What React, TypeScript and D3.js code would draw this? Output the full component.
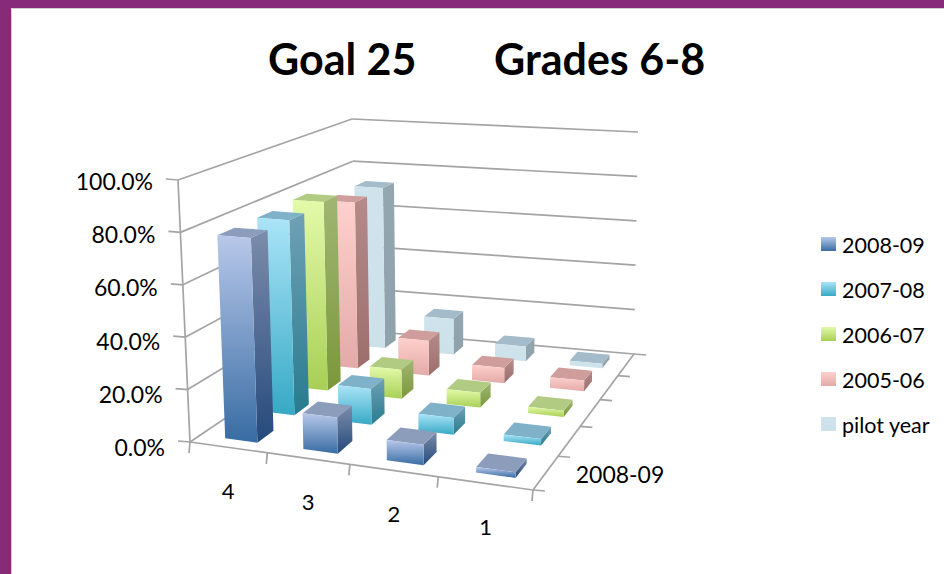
import React from "react";
import * as d3 from "d3";

const categories = ["4", "3", "2", "1"];
const seriesNames = ["2008-09", "2007-08", "2006-07", "2005-06", "pilot year"];
const s200809 = [78, 13.5, 7.5, 2];
const s200708 = [78, 14, 6.5, 2.5];
const s200607 = [79, 12, 6, 2.5];
const s200506 = [72.5, 15, 6.5, 4.5];
const sPilot = [73, 16, 6.5, 2];
const seriesValues = [s200809, s200708, s200607, s200506, sPilot];
const yTicks = [0, 20, 40, 60, 80, 100];

const palette = [
  { ft: "#b8c8ea", fb: "#386ca3", top: "#8c9dbc", st: "#7c8cab", sb: "#254a7c" },
  { ft: "#aae4f8", fb: "#36a9c5", top: "#7fb2c8", st: "#6fa0b6", sb: "#287b8e" },
  { ft: "#e3faa9", fb: "#a8cf55", top: "#b1cc82", st: "#a0b673", sb: "#7a983a" },
  { ft: "#fed0cd", fb: "#e3aaa8", top: "#cf9d9b", st: "#b58a88", sb: "#9c6f6d" },
  { ft: "#cfe3ec", fb: "#cde1ea", top: "#a4bbc9", st: "#94a6af", sb: "#8fa1aa" },
];

const W = 944, H = 574;
type Pt = [number, number];
const floorCorners: Pt[] = [[190, 442], [533, 490], [634, 354], [356, 330]];
const ceilCorners: Pt[] = [[178, 180], [535, 205], [638, 132], [352, 119]];

function homography([p00, p10, p11, p01]: Pt[]) {
  const den = (p10[0] - p11[0]) * (p01[1] - p11[1]) - (p01[0] - p11[0]) * (p10[1] - p11[1]);
  const sx = p00[0] - p10[0] + p11[0] - p01[0], sy = p00[1] - p10[1] + p11[1] - p01[1];
  const g = (sx * (p01[1] - p11[1]) - (p01[0] - p11[0]) * sy) / den;
  const i = ((p10[0] - p11[0]) * sy - sx * (p10[1] - p11[1])) / den;
  const a = p10[0] - p00[0] + g * p10[0], b = p01[0] - p00[0] + i * p01[0];
  const e = p10[1] - p00[1] + g * p10[1], f = p01[1] - p00[1] + i * p01[1];
  return (u: number, v: number): Pt => {
    const w = g * u + i * v + 1;
    return [(a * u + b * v + p00[0]) / w, (e * u + f * v + p00[1]) / w];
  };
}
const floorAt = homography(floorCorners);
const ceilAt = homography(ceilCorners);
const project = (u: number, v: number, h: number): Pt => {
  const p = floorAt(u, v), q = ceilAt(u, v);
  return [p[0] + (q[0] - p[0]) * h, p[1] + (q[1] - p[1]) * h];
};
const [A, B, C] = floorCorners;

const uScale = d3.scaleBand<string>().domain(categories).range([0.01, 1.01]).paddingInner(0.58).paddingOuter(0.29);
const vScale = d3.scaleBand<string>().domain(seriesNames).range([-0.008, 0.992]).paddingInner(0.58).paddingOuter(0.29);
const uTick = d3.scaleLinear().domain([0, categories.length]).range([0, 1]);
const vTick = d3.scaleLinear().domain([0, seriesNames.length]).range([0, 1]);
const hScale = d3.scaleLinear().domain([0, 100]).range([0, 1]);
const yLabel = d3.scaleLinear().domain([0, 100]).range([456, 190]);
const line = d3.line<Pt>();
const poly = (pts: Pt[]) => line(pts) + "Z";

const AXIS = "#a4a4a4";
const FONT = "Lato, Carlito, 'Noto Sans', sans-serif";

export default function App() {
  const bars: React.ReactNode[] = [];
  for (let s = seriesNames.length - 1; s >= 0; s--) {
    categories.forEach((cat, k) => {
      const u0 = uScale(cat)!, u1 = u0 + uScale.bandwidth();
      const v0 = vScale(seriesNames[s])!, v1 = v0 + vScale.bandwidth();
      const h = hScale(seriesValues[s][k]);
      const p = palette[s];
      bars.push(
        <g key={s + "-" + k}>
          <path d={poly([project(u1, v0, 0), project(u1, v1, 0), project(u1, v1, h), project(u1, v0, h)])} fill={`url(#side${s})`} />
          <path d={poly([project(u0, v0, h), project(u1, v0, h), project(u1, v1, h), project(u0, v1, h)])} fill={p.top} />
          <path d={poly([project(u0, v0, 0), project(u1, v0, 0), project(u1, v0, h), project(u0, v0, h)])} fill={`url(#front${s})`} />
        </g>
      );
    });
  }

  const seg = (a: Pt, b: Pt, key: string) => (
    <line key={key} x1={a[0]} y1={a[1]} x2={b[0]} y2={b[1]} stroke={AXIS} strokeWidth={1.7} />
  );

  const axisLines: React.ReactNode[] = [];
  yTicks.forEach((t) => {
    const h = hScale(t);
    axisLines.push(seg(project(0, 0, h), project(0, 1, h), "l" + t));
    axisLines.push(seg(project(0, 1, h), project(1, 1, h), "b" + t));
    const p = project(0, 0, h);
    axisLines.push(seg([p[0] - 12, p[1] - 1], p, "t" + t));
  });
  axisLines.push(seg(project(0, 0, 0), project(0, 0, 1), "v"));
  axisLines.push(seg(A, B, "fe"));
  axisLines.push(seg(B, C, "re"));
  d3.range(categories.length + 1).forEach((i) => {
    const p = project(uTick(i), 0, 0);
    axisLines.push(seg(p, [p[0] - 1, p[1] + 11], "cx" + i));
  });
  d3.range(seriesNames.length + 1).forEach((i) => {
    const p = project(1, vTick(i), 0);
    axisLines.push(seg(p, [p[0] + 12, p[1] + 1], "sx" + i));
  });

  return (
    <svg width={W} height={H} viewBox={`0 0 ${W} ${H}`} style={{ position: "absolute", left: 0, top: 0, background: "#fff" }}>
      <defs>
        {palette.map((p, s) => (
          <React.Fragment key={s}>
            <linearGradient id={`front${s}`} x1="0" y1="0" x2="0" y2="1">
              <stop offset="0" stopColor={p.ft} />
              <stop offset="1" stopColor={p.fb} />
            </linearGradient>
            <linearGradient id={`side${s}`} x1="0" y1="0" x2="0" y2="1">
              <stop offset="0" stopColor={p.st} />
              <stop offset="1" stopColor={p.sb} />
            </linearGradient>
          </React.Fragment>
        ))}
      </defs>

      <rect x={0} y={0} width={W} height={8} fill="#862a79" />
      <rect x={0} y={0} width={11} height={H} fill="#862a79" />
      <line x1={11.5} y1={8.5} x2={W} y2={8.5} stroke="#cfcfcf" />
      <line x1={11.5} y1={8.5} x2={11.5} y2={H} stroke="#cfcfcf" />

      <text x={268} y={75} fontFamily={FONT} fontWeight={700} fontSize={43} fill="#000">Goal 25</text>
      <text x={494} y={75} fontFamily={FONT} fontWeight={700} fontSize={43} fill="#000">Grades 6-8</text>

      <g>{axisLines}</g>
      <g>{bars}</g>

      {yTicks.map((t) => {
        const p = project(0, 0, hScale(t));
        return (
          <text key={t} x={p[0] - 25} y={yLabel(t)} textAnchor="end" fontFamily={FONT} fontSize={23} fill="#000">
            {t.toFixed(1) + "%"}
          </text>
        );
      })}
      {categories.map((c) => {
        const p = project(uScale(c)! + uScale.bandwidth() / 2, 0, 0);
        return (
          <text key={c} x={p[0] - 3} y={p[1] + 51} textAnchor="middle" fontFamily={FONT} fontSize={22} fill="#000">
            {c}
          </text>
        );
      })}
      <text x={620} y={483} textAnchor="middle" fontFamily={FONT} fontSize={23} fill="#000">{seriesNames[0]}</text>

      {seriesNames.map((n, i) => {
        const y = 246 + i * 45;
        return (
          <g key={n}>
            <rect x={821} y={y - 9} width={15} height={14} fill={`url(#front${i})`} />
            <text x={842} y={y + 7} fontFamily={FONT} fontSize={21.5} fill="#000">{n}</text>
          </g>
        );
      })}
    </svg>
  );
}
